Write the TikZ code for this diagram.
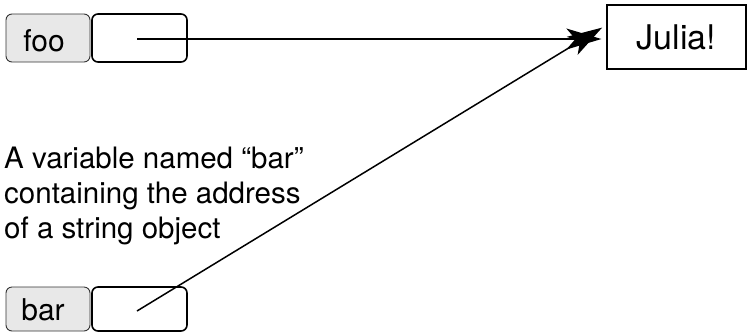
\documentclass[tikz,border=0pt]{standalone}
\usepackage{fontspec}
\setmainfont{TeX Gyre Heros}
\usetikzlibrary{arrows.meta}
\begin{document}
\begin{tikzpicture}[x=1pt,y=-1pt,
  namebox/.style={draw=black!80, line width=0.9pt, rounded corners=6pt, fill=black!9,
    minimum width=84pt, inner sep=0pt},
  namelabel/.style={font=\fontsize{30}{34}\selectfont, inner sep=0pt, anchor=base},
  valuebox/.style={draw=black, line width=1.6pt, rounded corners=6pt,
    minimum width=95pt, inner sep=0pt},
  ptr/.style={line width=1.5pt, shorten >=5pt,
    -{Stealth[length=35pt, width=21pt, inset=9pt]}}]
  \useasboundingbox (0,0) rectangle (747,333);

  % variable "foo" and its slot
  \node[namebox, minimum height=48pt] (foo) at (48,38) {};
  \node[namelabel] (foolabel) at (44,51) {foo};
  \node[valuebox, minimum height=48pt] (fooval) at (139.5,38) {};
  \coordinate (fooptr) at (137,39);

  % variable "bar" and its slot
  \node[namebox, minimum height=44pt] (bar) at (48,309) {};
  \node[namelabel] (barlabel) at (43,320) {bar};
  \node[valuebox, minimum height=44pt] (barval) at (139.5,309) {};
  \coordinate (barptr) at (137,311);

  % the string object
  \node[draw, line width=1.2pt, minimum width=139pt, minimum height=64pt, inner sep=0pt,
    font=\fontsize{34}{40}\selectfont] (julia) at (676.5,37) {Julia!};

  % explanation
  \node[anchor=base west, inner sep=0pt, align=left,
    font=\fontsize{29.5}{35}\selectfont] (note) at (4,238)
    {A variable named “bar”\\containing the address\\of a string object};

  % pointers
  \draw[ptr] (fooptr) -- (fooptr -| julia.west);
  \draw[ptr] (barptr) -- ([yshift=12pt]julia.west);
\end{tikzpicture}
\end{document}
